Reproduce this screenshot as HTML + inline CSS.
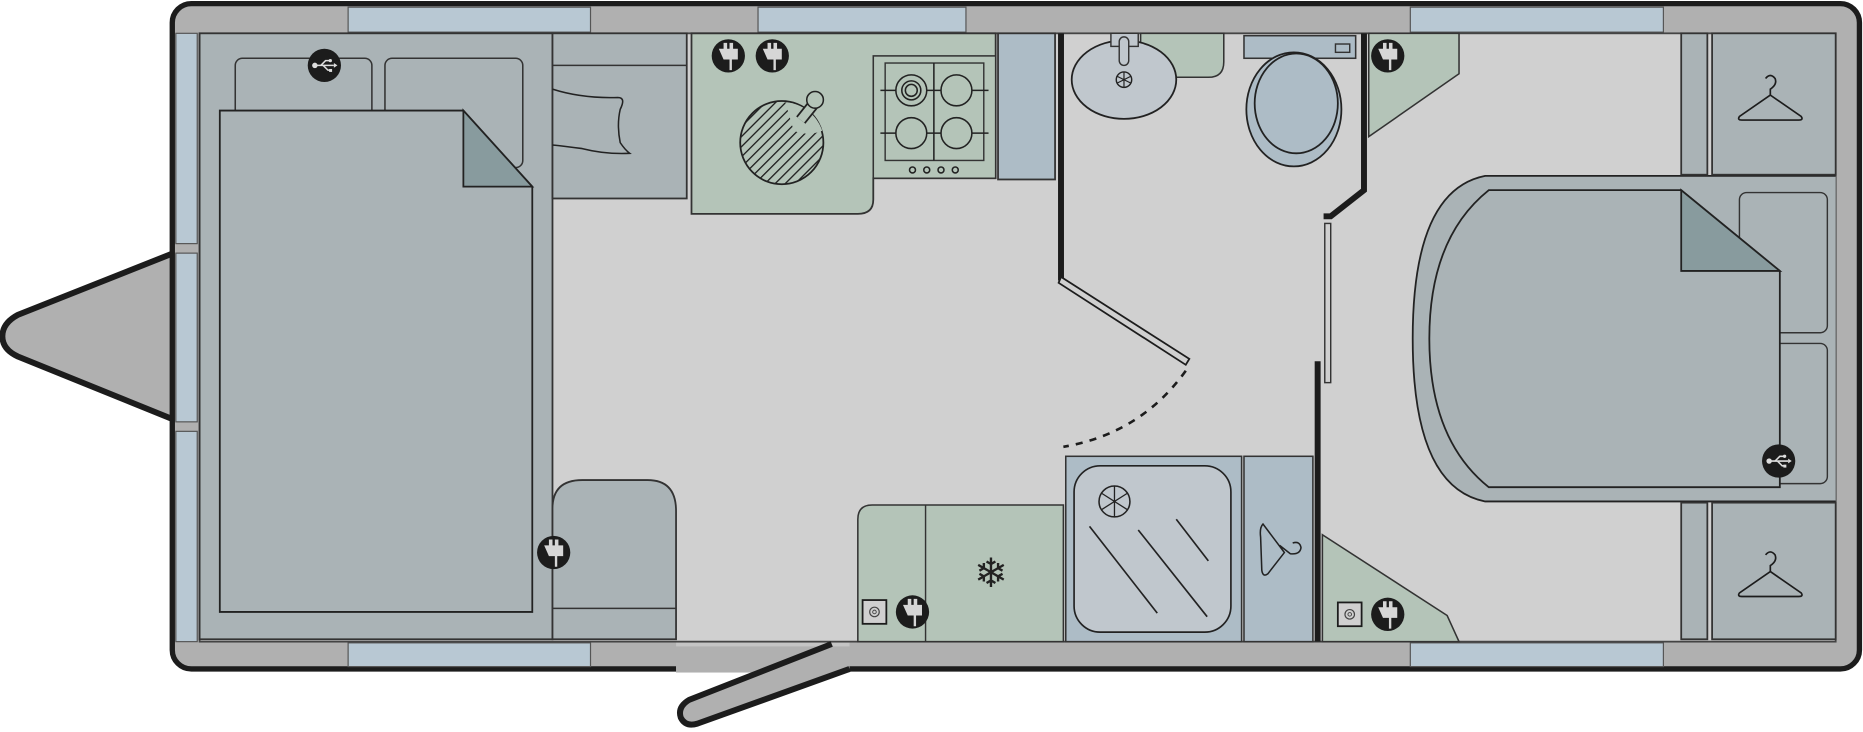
<!DOCTYPE html>
<html><head><meta charset="utf-8"><style>html,body{margin:0;padding:0;background:#fff}svg{display:block}</style></head><body>
<svg width="1863" height="732" viewBox="0 0 1568 616" xmlns="http://www.w3.org/2000/svg" font-family="Liberation Sans, sans-serif">
<defs>
<pattern id="h" width="6" height="6" patternUnits="userSpaceOnUse" patternTransform="rotate(45)"><rect width="6" height="6" fill="#b4c4b8"/><line x1="0" y1="0" x2="0" y2="6" stroke="#1c1c1c" stroke-width="2.2"/></pattern>
<g id="plug"><circle r="14" fill="#1c1c1c"/><path d="M-8,-6 h4 v-5 h3 v5 h2 v-5 h3 v5 h4 v9 h-5 v9 h-2 v-9 h-5 z" fill="#d6d6d6"/></g>
<g id="usb"><circle r="14" fill="#1c1c1c"/><g stroke="#ddd" stroke-width="1.3" fill="none"><line x1="-8" y1="0" x2="8" y2="0"/><path d="M-3,0 L1,-4 H5 M-1,0 L3,4 H5"/></g><circle cx="-8" cy="0" r="2.3" fill="#ddd"/><circle cx="5" cy="-4" r="1.4" fill="#ddd"/><rect x="4" y="3" width="2.5" height="2.5" fill="#ddd"/><path d="M8,-2 L11,0 L8,2z" fill="#ddd"/></g>
<g id="sock"><rect x="-10" y="-10" width="20" height="20" fill="#d0d0d0" stroke="#1c1c1c" stroke-width="1.5"/><circle r="4" fill="none" stroke="#444" stroke-width="1"/><circle r="1.5" fill="none" stroke="#444" stroke-width="0.8"/></g>
<g id="hang" fill="none" stroke="#1c1c1c" stroke-width="1.4"><path d="M0,10 L-26,28 Q-28,31 -24,31 L24,31 Q28,31 26,28 L0,10 Z"/><path d="M0,10 V5 Q6,1 4,-4 Q0,-9 -4,-4"/></g>
</defs>
<!-- A-frame -->
<path d="M146,213 L15,265 Q2,272 2,283 Q2,294 15,300 L146,353 Z" fill="#b0b0b0" stroke="#1c1c1c" stroke-width="5" stroke-linejoin="round"/>
<!-- body -->
<rect x="145" y="3" width="1420" height="560" rx="16" fill="#b0b0b0" stroke="#1c1c1c" stroke-width="4.5"/>
<rect x="569" y="540" width="146" height="26" fill="#b0b0b0"/>
<line x1="569" y1="563" x2="715" y2="563" stroke="#b0b0b0" stroke-width="6"/>
<rect x="569" y="540" width="146" height="4" fill="#c4c4c4"/>
<!-- windows -->
<g fill="#b8c8d3" stroke="#555" stroke-width="1">
<rect x="293" y="6" width="204" height="21"/><rect x="638" y="6" width="175" height="21"/><rect x="1187" y="6" width="213" height="21"/>
<rect x="293" y="541" width="204" height="20"/><rect x="1187" y="541" width="213" height="20"/>
<rect x="148" y="28" width="18" height="177"/><rect x="148" y="213" width="18" height="142"/><rect x="148" y="363" width="18" height="177"/>
</g>
<!-- floor -->
<rect x="168" y="28" width="1377" height="512" fill="#d0d0d0" stroke="#444" stroke-width="1.5"/>
<!-- left bedroom -->
<rect x="168" y="28" width="297" height="510" fill="#aab3b6" stroke="#333" stroke-width="1.5"/>
<rect x="198" y="49" width="115" height="60" rx="6" fill="#aab3b6" stroke="#333" stroke-width="1.3"/>
<rect x="324" y="49" width="116" height="92" rx="6" fill="#aab3b6" stroke="#333" stroke-width="1.3"/>
<path d="M185,93 H390 L448,157 V515 H185 Z" fill="#aab3b6" stroke="#222" stroke-width="1.5"/>
<path d="M390,93 L448,157 H390 Z" fill="#889b9e" stroke="#222" stroke-width="1.5"/>
<use href="#usb" x="273" y="55"/>
<!-- wardrobe near bedroom top -->
<rect x="465" y="28" width="113" height="139" fill="#aab3b6" stroke="#333" stroke-width="1.5"/>
<line x1="465" y1="55" x2="578" y2="55" stroke="#333" stroke-width="1.3"/>
<path d="M465,75 Q490,83 520,82 Q527,82 522,92 Q519,105 522,120 Q526,126 530,129 Q510,130 490,125 Q475,123 465,122" fill="none" stroke="#222" stroke-width="1.3"/>
<!-- chair -->
<path d="M465,538 V428 Q465,404 490,404 H545 Q569,404 569,430 V538 Z" fill="#aab3b6" stroke="#333" stroke-width="1.5"/>
<line x1="465" y1="512" x2="569" y2="512" stroke="#333" stroke-width="1.3"/>
<use href="#plug" x="466" y="465"/>
<!-- kitchen -->
<path d="M582,28 H838 V150 H735 V168 Q735,180 722,180 H582 Z" fill="#b4c4b8" stroke="#333" stroke-width="1.5"/>
<circle cx="658" cy="120" r="35" fill="url(#h)" stroke="#222" stroke-width="1.5"/>
<path d="M661,86 A35,35 0 0 1 692,110 Q680,115 668,110 Z" fill="#b4c4b8"/>
<line x1="674" y1="101" x2="686" y2="86" stroke="#222" stroke-width="10" stroke-linecap="butt"/>
<line x1="674" y1="101" x2="686" y2="86" stroke="#b4c4b8" stroke-width="7"/>
<circle cx="686" cy="84" r="7" fill="#b4c4b8" stroke="#222" stroke-width="1.3"/>
<use href="#plug" x="613" y="47"/><use href="#plug" x="650" y="47"/>
<rect x="735" y="47" width="103" height="103" fill="#b4c4b8" stroke="#333" stroke-width="1.3"/>
<rect x="745" y="53" width="83" height="82" fill="none" stroke="#333" stroke-width="1.2"/>
<g fill="#b4c4b8" stroke="#222" stroke-width="1.3">
<line x1="741" y1="76" x2="832" y2="76"/><line x1="741" y1="112" x2="832" y2="112"/><line x1="786" y1="53" x2="786" y2="135"/>
<circle cx="767" cy="76" r="13"/><circle cx="767" cy="76" r="8"/><circle cx="767" cy="76" r="5"/>
<circle cx="805" cy="76" r="13"/><circle cx="767" cy="112" r="13"/><circle cx="805" cy="112" r="13"/>
<circle cx="768" cy="143" r="2.5"/><circle cx="780" cy="143" r="2.5"/><circle cx="792" cy="143" r="2.5"/><circle cx="804" cy="143" r="2.5"/>
</g>
<rect x="840" y="28" width="48" height="123" fill="#adbcc6" stroke="#333" stroke-width="1.5"/>
<!-- washroom wall/door -->
<line x1="893" y1="28" x2="893" y2="236" stroke="#1c1c1c" stroke-width="5"/>
<path d="M893,233 L1001,302 L998,307 L891,238 Z" fill="#d0d0d0" stroke="#1c1c1c" stroke-width="1.5"/>
<path d="M998,312 Q960,365 895,376" fill="none" stroke="#1c1c1c" stroke-width="2.2" stroke-dasharray="6,6"/>
<!-- basin -->
<path d="M960,28 H1030 V52 Q1030,65 1017,65 H960 Z" fill="#b4c4b8" stroke="#333" stroke-width="1.3"/>
<ellipse cx="946" cy="67" rx="44" ry="33" fill="#c0c7cd" stroke="#222" stroke-width="1.5"/>
<rect x="935" y="28" width="23" height="11" fill="#c0c7cd" stroke="#333" stroke-width="1.2"/>
<rect x="942" y="31" width="8" height="24" rx="4" fill="#c0c7cd" stroke="#333" stroke-width="1.2"/>
<circle cx="946" cy="67" r="6.5" fill="none" stroke="#222" stroke-width="1.2"/>
<path d="M946,61 V73 M940,64 L952,70 M940,70 L952,64" stroke="#222" stroke-width="1"/>
<!-- toilet -->
<rect x="1047" y="30" width="94" height="19" fill="#adbcc6" stroke="#333" stroke-width="1.3"/>
<rect x="1124" y="37" width="12" height="7" fill="none" stroke="#333" stroke-width="1.2"/>
<ellipse cx="1089" cy="92" rx="40" ry="48" fill="#adbcc6" stroke="#222" stroke-width="1.5"/>
<ellipse cx="1091" cy="87" rx="35" ry="42" fill="#adbcc6" stroke="#222" stroke-width="1.5"/>
<!-- corner unit top right -->
<path d="M1152,28 H1228 V62 L1152,115 Z" fill="#b4c4b8" stroke="#333" stroke-width="1.3"/>
<use href="#plug" x="1168" y="47"/>
<path d="M1148,28 V160 L1120,182 H1114" fill="none" stroke="#1c1c1c" stroke-width="5"/>
<rect x="1115" y="188" width="5" height="134" fill="#d0d0d0" stroke="#333" stroke-width="1.2"/>
<line x1="1109" y1="304" x2="1109" y2="540" stroke="#1c1c1c" stroke-width="5"/>
<!-- shower -->
<rect x="897" y="384" width="148" height="156" fill="#adbcc6" stroke="#333" stroke-width="1.3"/>
<rect x="904" y="392" width="132" height="140" rx="22" fill="#c0c7cd" stroke="#222" stroke-width="1.4"/>
<circle cx="938" cy="422" r="13" fill="none" stroke="#222" stroke-width="1.3"/>
<path d="M938,409 V435 M927,415 L949,429 M927,429 L949,415" stroke="#222" stroke-width="1.1"/>
<g stroke="#222" stroke-width="1.4"><line x1="917" y1="443" x2="974" y2="516"/><line x1="958" y1="446" x2="1016" y2="519"/><line x1="990" y1="437" x2="1017" y2="472"/></g>
<rect x="1047" y="384" width="58" height="156" fill="#adbcc6" stroke="#333" stroke-width="1.3"/>
<path d="M1063,441 Q1060,444 1061,452 L1062,480 Q1063,486 1067,483 L1081,465 L1063,441 Z M1077,459 L1086,466 Q1094,467 1095,461 Q1094,455 1088,457" fill="none" stroke="#222" stroke-width="1.3"/>
<!-- fridge unit -->
<path d="M722,540 V437 Q722,425 734,425 H895 V540 Z" fill="#b4c4b8" stroke="#333" stroke-width="1.3"/>
<line x1="779" y1="425" x2="779" y2="540" stroke="#333" stroke-width="1.2"/>
<text x="834" y="494" font-size="34" text-anchor="middle" fill="#222">❄</text>
<use href="#sock" x="736" y="515"/><use href="#plug" x="768" y="515"/>
<!-- bottom right corner unit -->
<path d="M1113,450 L1218,518 L1228,540 H1113 Z" fill="#b4c4b8" stroke="#333" stroke-width="1.3"/>
<use href="#sock" x="1136" y="517"/><use href="#plug" x="1168" y="517"/>
<!-- right bedroom -->
<path d="M1545,148 H1250 Q1189,160 1189,285 Q1189,410 1250,422 H1545" fill="#aab3b6" stroke="#222" stroke-width="1.5"/>
<rect x="1464" y="162" width="74" height="118" rx="6" fill="#aab3b6" stroke="#333" stroke-width="1.2"/>
<rect x="1464" y="289" width="74" height="118" rx="6" fill="#aab3b6" stroke="#333" stroke-width="1.2"/>
<path d="M1498,228 V410 H1253 Q1203,370 1203,285 Q1203,200 1253,160 H1415 Z" fill="#aab3b6" stroke="#222" stroke-width="1.5"/>
<path d="M1415,160 L1498,228 H1415 Z" fill="#889b9e" stroke="#222" stroke-width="1.5"/>
<use href="#usb" x="1497" y="388"/>
<!-- wardrobes -->
<g fill="#aab3b6" stroke="#333" stroke-width="1.5">
<rect x="1415" y="28" width="22" height="119"/><rect x="1441" y="28" width="104" height="119"/>
<rect x="1415" y="423" width="22" height="115"/><rect x="1441" y="423" width="104" height="115"/>
</g>
<use href="#hang" x="1490" y="70"/><use href="#hang" x="1490" y="471"/>
<!-- door panel -->
<path d="M700,542 L580,589 Q570,595 573,604 Q577,612 587,609 L715,563" fill="#b0b0b0" stroke="#1c1c1c" stroke-width="5" stroke-linejoin="round"/>
</svg>
</body></html>
